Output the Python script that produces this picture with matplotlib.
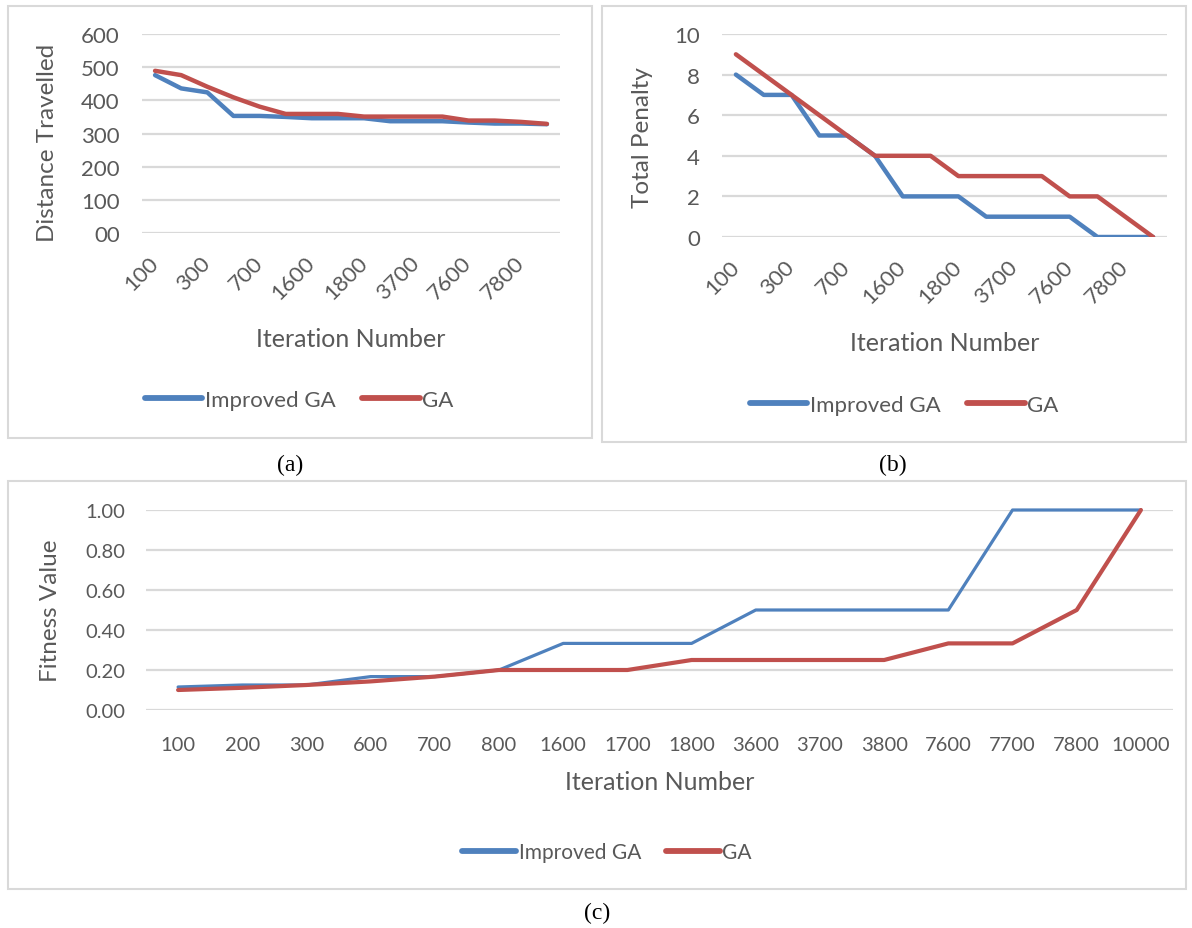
import matplotlib
matplotlib.use("Agg")
import matplotlib.pyplot as plt
from matplotlib.patches import Rectangle

plt.rcParams['font.family'] = ['Lato', 'DejaVu Sans']

# iteration numbers shared by all three charts
iterations = ['100', '200', '300', '600', '700', '800', '1600', '1700', '1800',
              '3600', '3700', '3800', '7600', '7700', '7800', '10000']

# (a) distance travelled
dist_improved = [476, 436, 424, 353, 353, 350, 346, 346, 346, 337, 337, 337, 333, 330, 330, 328]
dist_ga = [489, 476, 441, 409, 381, 359, 359, 359, 351, 351, 351, 351, 339, 339, 335, 329]
dist_ticks = [0, 100, 200, 300, 400, 500, 600]
dist_ticklabels = ['00', '100', '200', '300', '400', '500', '600']

# (b) total penalty
pen_improved = [8, 7, 7, 5, 5, 4, 2, 2, 2, 1, 1, 1, 1, 0, 0, 0]
pen_ga = [9, 8, 7, 6, 5, 4, 4, 4, 3, 3, 3, 3, 2, 2, 1, 0]
pen_ticks = [0, 2, 4, 6, 8, 10]

# (c) fitness value
fit_improved = [0.115, 0.125, 0.125, 0.167, 0.167, 0.2, 0.333, 0.333, 0.333,
                0.5, 0.5, 0.5, 0.5, 1.0, 1.0, 1.0]
fit_ga = [0.1, 0.111, 0.125, 0.143, 0.167, 0.2, 0.2, 0.2, 0.25,
          0.25, 0.25, 0.25, 0.333, 0.333, 0.5, 1.0]
fit_ticks = [0.0, 0.2, 0.4, 0.6, 0.8, 1.0]

BLUE = '#4F81BD'
RED = '#C0504D'
GRID = '#D9D9D9'
TXT = '#595959'

W, H = 1192, 929
fig = plt.figure(figsize=(W / 100, H / 100), dpi=100)


def px_axes(l, r, t, b):
    return fig.add_axes([l / W, 1 - b / H, (r - l) / W, (b - t) / H])


def box(l, r, t, b):
    fig.add_artist(Rectangle((l / W, 1 - b / H), (r - l) / W, (b - t) / H,
                             transform=fig.transFigure, fill=False,
                             edgecolor=GRID, lw=1.5))


def style(ax, ticks, ylim, ylabel, ylab_xy, xlab_y, fs, ypad):
    for s in ax.spines.values():
        s.set_visible(False)
    ax.set_ylim(*ylim)
    ax.set_yticks(ticks)
    ax.yaxis.grid(True, color=GRID, lw=1.6)
    ax.set_axisbelow(True)
    ax.tick_params(length=0, colors=TXT, labelsize=fs)
    ax.tick_params(axis='y', pad=ypad)
    ax.set_xlim(-0.5, len(iterations) - 0.5)
    ax.set_ylabel(ylabel, fontsize=17.5, color=TXT)
    ax.yaxis.set_label_coords(*ylab_xy)
    ax.set_xlabel('Iteration Number', fontsize=18, color=TXT)
    ax.xaxis.set_label_coords(0.5, xlab_y)


def legend(ax, cx, cy, fs):
    leg = ax.legend(loc='center', bbox_to_anchor=(cx / W, 1 - cy / H),
                    bbox_transform=fig.transFigure, ncol=2, frameon=False,
                    fontsize=fs, labelcolor=TXT, handlelength=2.6,
                    handletextpad=0.1, columnspacing=1.2)
    for ln in leg.get_lines():
        ln.set_linewidth(4.2)
        ln.set_solid_capstyle('round')


x = list(range(len(iterations)))

# ---- (a)
box(8, 592, 7, 439)
ax1 = px_axes(142, 560, 35, 234)
ax1.plot(x, dist_improved, color=BLUE, lw=3.2, label='Improved GA', solid_capstyle='round')
ax1.plot(x, dist_ga, color=RED, lw=3.2, label='GA', solid_capstyle='round')
style(ax1, dist_ticks, (0, 600), 'Distance Travelled', (-0.201, 0.46), -0.47, 16, 16)
ax1.set_yticklabels(dist_ticklabels)
ax1.set_xticks(x[::2])
ax1.set_xticklabels(iterations[::2], rotation=45, ha='right', va='center',
                    rotation_mode='anchor')
ax1.tick_params(axis='x', pad=19)
legend(ax1, 299, 401, 16)
fig.text(290 / W, 1 - 465 / H, '(a)', family='Liberation Serif', fontsize=17,
         ha='center', va='center')

# ---- (b)
box(602, 1186, 7, 443)
ax2 = px_axes(722, 1167, 35, 238)
ax2.plot(x, pen_improved, color=BLUE, lw=3.2, label='Improved GA', solid_capstyle='round')
ax2.plot(x, pen_ga, color=RED, lw=3.2, label='GA', solid_capstyle='round')
style(ax2, pen_ticks, (0, 10), 'Total Penalty', (-0.155, 0.495), -0.465, 16, 16)
ax2.set_xticks(x[::2])
ax2.set_xticklabels(iterations[::2], rotation=45, ha='right', va='center',
                    rotation_mode='anchor')
ax2.tick_params(axis='x', pad=19)
legend(ax2, 904, 406, 16)
fig.text(893 / W, 1 - 465 / H, '(b)', family='Liberation Serif', fontsize=17,
         ha='center', va='center')

# ---- (c)
box(8, 1186, 482, 890)
ax3 = px_axes(146, 1173, 511, 711)
ax3.plot(x, fit_improved, color=BLUE, lw=2.3, label='Improved GA',
         solid_capstyle='round', clip_on=False)
ax3.plot(x, fit_ga, color=RED, lw=3.0, label='GA', solid_capstyle='round',
         clip_on=False)
style(ax3, fit_ticks, (0, 1), 'Fitness Value', (-0.083, 0.5), -0.30, 14.5, 15)
ax3.set_yticklabels([f'{v:.2f}' for v in fit_ticks])
ax3.set_xticks(x)
ax3.set_xticklabels(iterations)
ax3.tick_params(axis='x', pad=19)
legend(ax3, 607, 853, 15)
fig.text(597 / W, 1 - 913 / H, '(c)', family='Liberation Serif', fontsize=17,
         ha='center', va='center')

fig.savefig('out.png', dpi=100)
